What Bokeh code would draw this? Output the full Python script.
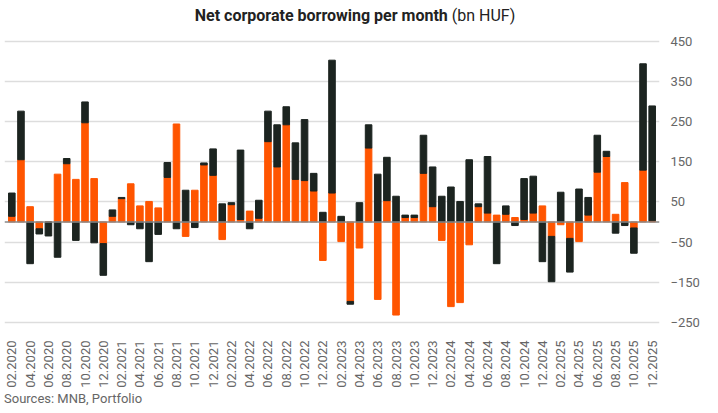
import numpy as np
from bokeh.plotting import figure
from bokeh.models import ColumnDataSource, FixedTicker, Div, Legend, LegendItem, Span
from bokeh.layouts import column
from bokeh.embed import file_html
from bokeh.resources import INLINE

months = [f"{m:02d}.{y}" for y in range(2020, 2026) for m in range(1, 13)][1:]
huf = [14,155,38,-17,0,119,145,106,247,108,-54,14,58,95,40,51,35,111,244,-36,79,142,116,-44,43,6,27,9,
       200,137,242,106,103,77,-96,72,-49,-198,-65,184,-193,53,-232,11,11,121,38,-46,-211,-201,-57,38,22,
       17,19,11,6,22,40,-36,-7,-41,-49,17,124,163,19,98,-15,129,3]
fx = [58,121,-104,-13,-35,-88,13,-46,52,-52,-79,16,3,-7,-17,-99,-31,37,-17,79,-14,5,66,45,5,173,-17,45,
      76,105,45,91,152,44,24,331,14,-7,48,58,119,108,64,6,6,95,99,64,87,51,155,7,141,
      -104,21,-9,102,92,-99,-113,74,-84,82,44,92,13,-28,-9,-63,265,286]
yticks = [-250,-150,-50,50,150,250,350,450]

n = len(months)
x = list(range(n))
h = np.array(huf, float); f = np.array(fx, float)
fx_bottom = np.where(np.sign(h) == np.sign(f), h, 0.0)
src = ColumnDataSource(dict(x=x, h=list(h), zero=[0.0]*n, fb=list(fx_bottom), ft=list(fx_bottom + f)))

p = figure(width=702, height=358, output_backend="svg", toolbar_location=None,
           x_range=(-0.8, n - 0.2), y_range=(-268, 462), y_axis_location="right",
           min_border_top=4, min_border_left=4, min_border_right=6, min_border_bottom=40)
DARK, ORANGE = "#1c2420", "#ff5500"
r1 = p.vbar(x="x", bottom="zero", top="h", width=0.72, color=ORANGE, source=src)
r2 = p.vbar(x="x", bottom="fb", top="ft", width=0.72, color=DARK, source=src)
p.add_layout(Span(location=0, dimension="width", line_color="#888888", line_width=1.5))

even = x[::2]
p.yaxis.ticker = FixedTicker(ticks=yticks)
p.xaxis.ticker = FixedTicker(ticks=even)
p.xaxis.major_label_overrides = {i: months[i] for i in even}
p.xaxis.major_label_orientation = np.pi / 2
for ax in (p.xaxis, p.yaxis):
    ax.axis_line_color = None
    ax.major_tick_line_color = None
    ax.minor_tick_line_color = None
    ax.major_label_text_color = "#666666"
    ax.major_label_text_font = "Roboto"
    ax.major_label_text_font_size = "13px"
p.xgrid.grid_line_color = None
p.ygrid.grid_line_color = "#dddddd"
p.ygrid.grid_line_width = 1.5
p.outline_line_color = None

legend = Legend(items=[LegendItem(label="FX", renderers=[r2]), LegendItem(label="HUF", renderers=[r1])],
                orientation="horizontal", location=(362, -92), spacing=90, glyph_width=12, glyph_height=12,
                label_text_font="Roboto", label_text_font_size="13px", label_text_color="#444444",
                border_line_color=None, background_fill_alpha=0, padding=0, margin=0)
p.add_layout(legend)

title = Div(text='<div style="width:700px;text-align:center;font-family:Roboto;font-size:16px;color:#222">'
                 '<b>Net corporate borrowing per month</b> (bn HUF)</div>', width=700, height=22)
source = Div(text='<div style="font-family:Roboto;font-size:13px;color:#666">Sources: MNB, Portfolio</div>',
             width=300, height=16, margin=(0, 0, 0, 4))
out = column(title, p, source, spacing=0)
open("out.html", "w").write(file_html(out, INLINE))
